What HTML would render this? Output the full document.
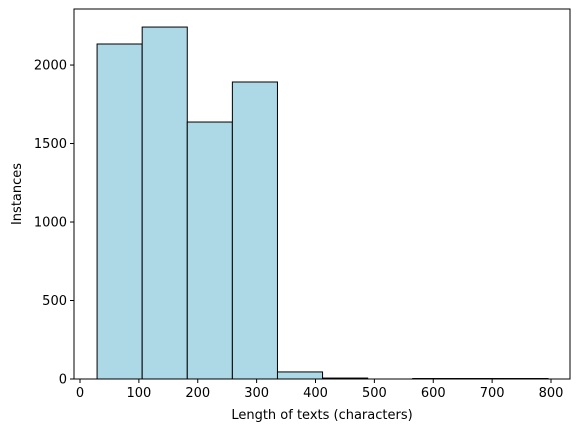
<!DOCTYPE html>
<html><head><meta charset="utf-8"><style>
body{margin:0;background:#fff;}
svg{display:block;font-family:"DejaVu Sans","Liberation Sans",sans-serif;}
</style></head><body>
<svg id="chart" width="580" height="432"></svg>
<script>
const binStart = 29;
const binWidth = 76.6;
const counts = [2134, 2242, 1637, 1892, 45, 6, 0, 3, 3, 3];
const xTicks = [0, 100, 200, 300, 400, 500, 600, 700, 800];
const yTicks = [0, 500, 1000, 1500, 2000];
const xLabel = "Length of texts (characters)";
const yLabel = "Instances";

const L = 74, R = 570, T = 9, B = 379;
const yMax = 2357;
const sx = v => 80 + v * (551 - 80) / 800;
const sy = v => B - v * (B - T) / yMax;
const NS = "http://www.w3.org/2000/svg";
const svg = document.getElementById("chart");
function mk(tag, attrs) {
  const e = document.createElementNS(NS, tag);
  for (const k in attrs) e.setAttribute(k, attrs[k]);
  svg.appendChild(e);
  return e;
}
counts.forEach((c, i) => {
  const x0 = sx(binStart + i * binWidth), x1 = sx(binStart + (i + 1) * binWidth);
  const r = mk("rect", {x: x0, y: sy(c), width: x1 - x0, height: B - sy(c), fill: "#add8e6", stroke: "#000", "stroke-width": 1});
  
  
});
const frame = mk("rect", {x: L, y: T, width: R - L, height: B - T, fill: "none", stroke: "#000", "stroke-width": 1});


xTicks.forEach(v => {
  const x = sx(v);
  mk("line", {x1: x, x2: x, y1: B, y2: B + 4, stroke: "#000", "stroke-width": 1});
  const t = mk("text", {x: x, y: B + 18, "text-anchor": "middle", "font-size": 13, fill: "#000"});
  t.textContent = v;
  
  
});
yTicks.forEach(v => {
  const y = sy(v);
  mk("line", {x1: L - 4, x2: L, y1: y, y2: y, stroke: "#000", "stroke-width": 1});
  const t = mk("text", {x: L - 7, y: y + 4.5, "text-anchor": "end", "font-size": 13, fill: "#000"});
  t.textContent = v;
  
  
});
const xt = mk("text", {x: (L + R) / 2, y: 419, "text-anchor": "middle", "font-size": 13, fill: "#000"});
xt.textContent = xLabel;


const yt = mk("text", {x: 21, y: (T + B) / 2, "text-anchor": "middle", "font-size": 13, fill: "#000", transform: "rotate(-90 21 " + (T + B) / 2 + ")"});
yt.textContent = yLabel;


</script>
</body></html>
